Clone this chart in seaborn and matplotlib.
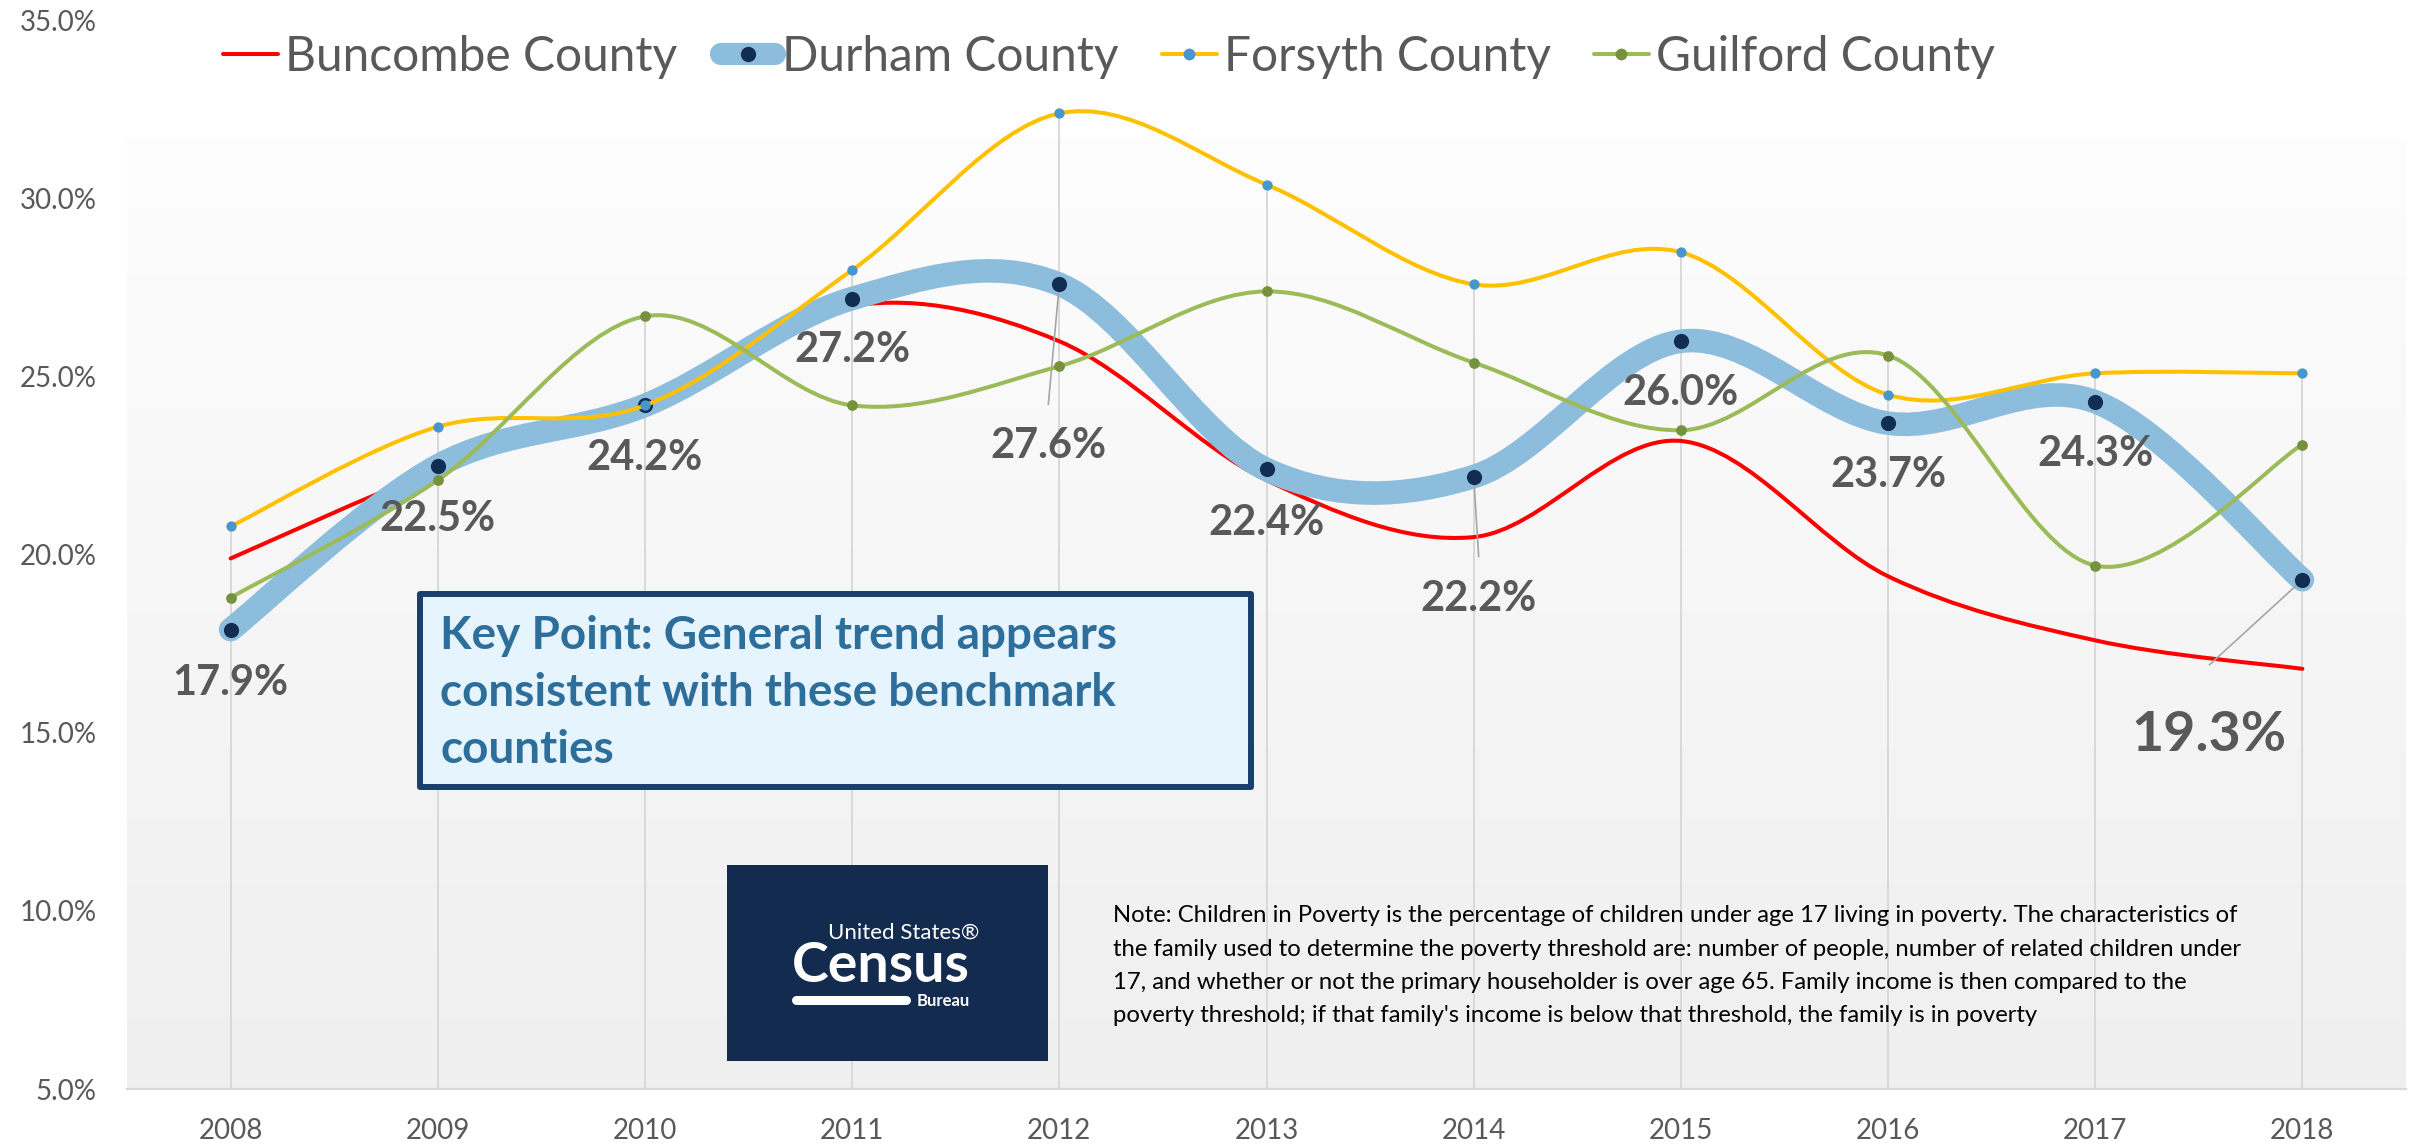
import numpy as np
import pandas as pd
import matplotlib.pyplot as plt
import seaborn as sns
from matplotlib.path import Path
from matplotlib.patches import PathPatch, Rectangle
from matplotlib.lines import Line2D
from matplotlib.colors import LinearSegmentedColormap
from matplotlib.ticker import FuncFormatter

# ==========================================
# DATA (children in poverty, %)
# ==========================================
years = [2008, 2009, 2010, 2011, 2012, 2013, 2014, 2015, 2016, 2017, 2018]
buncombe = [19.9, 22.4, 24.3, 27.0, 26.0, 22.1, 20.5, 23.2, 19.4, 17.6, 16.8]
durham = [17.9, 22.5, 24.2, 27.2, 27.6, 22.4, 22.2, 26.0, 23.7, 24.3, 19.3]
forsyth = [20.8, 23.6, 24.2, 28.0, 32.4, 30.4, 27.6, 28.5, 24.5, 25.1, 25.1]
guilford = [18.8, 22.1, 26.7, 24.2, 25.3, 27.4, 25.4, 23.5, 25.6, 19.7, 23.1]
counties = ["Buncombe County", "Durham County", "Forsyth County", "Guilford County"]
y_ticks = [5, 10, 15, 20, 25, 30, 35]

key_point = ["Key Point: General trend appears",
             "consistent with these benchmark",
             "counties"]
note_lines = [
    "Note: Children in Poverty is the percentage of children under age 17 living in poverty. The characteristics of",
    "the family used to determine the poverty threshold are: number of people, number of related children under",
    "17, and whether or not the primary householder is over age 65. Family income is then compared to the",
    "poverty threshold; if that family's income is below that threshold, the family is in poverty",
]

# label offsets for the Durham values, in pixels (dx, dy)
label_offsets = [(0, -50), (0, -50), (0, -49), (0, -48), (-11, -158), (0, -50),
                 (5, -119), (0, -48), (0, -48), (0, -49), (-93, -151)]
leader_ends = {4: (-11, -120), 6: (5, -80), 10: (-93, -85)}

# ==========================================
# STYLE
# ==========================================
W, H = 2412, 1145
GREY_TXT = "#595959"
RED = "#ff0000"
DURHAM_LINE = "#8dbddd"
DURHAM_MARK = "#112d52"
FORSYTH_LINE = "#ffc000"
FORSYTH_MARK = "#4896cc"
GUILFORD_LINE = "#9bbb59"
GUILFORD_MARK = "#76923c"

sns.set_theme(style="white")
plt.rcParams["font.family"] = ["Lato", "DejaVu Sans"]


def fx(x):
    return x / W


def fy(y):
    return 1 - y / H


def smooth_path(xs, ys):
    # Excel-like smoothed line: cubic Bezier through every point
    pts = np.column_stack([xs, ys]).astype(float)
    n = len(pts)
    verts = [pts[0]]
    codes = [Path.MOVETO]
    for i in range(n - 1):
        p0 = pts[i - 1] if i > 0 else pts[i]
        p1, p2 = pts[i], pts[i + 1]
        p3 = pts[i + 2] if i + 2 < n else pts[i + 1]
        verts += [p1 + (p2 - p0) / 6, p2 - (p3 - p1) / 6, p2]
        codes += [Path.CURVE4] * 3
    return Path(verts, codes)


df = pd.DataFrame({
    "year": years * 4,
    "value": buncombe + durham + forsyth + guilford,
    "county": [c for c in counties for _ in years],
})

fig = plt.figure(figsize=(W / 100, H / 100), dpi=100)
fig.patch.set_facecolor("white")
ax = fig.add_axes([fx(127), fy(1089), fx(2406 - 127), (1089 - 20.8) / H])
ax.set_facecolor("white")

# plot area gradient
bg = LinearSegmentedColormap.from_list("bg", ["#fdfdfd", "#efefef"])
ax.imshow(np.linspace(0, 1, 256).reshape(-1, 1), extent=[2007.5, 2018.5, 5, 31.7],
          aspect="auto", cmap=bg, origin="upper", zorder=0)

# drop lines from the highest point of each year
tops = df.groupby("year")["value"].max()
ax.vlines(tops.index, 5, tops.values, color="#d9d9d9", lw=1.4, zorder=1)

line_styles = {
    "Buncombe County": (RED, 2.9, 2),
    "Durham County": (DURHAM_LINE, 17, 3),
    "Forsyth County": (FORSYTH_LINE, 2.9, 5),
    "Guilford County": (GUILFORD_LINE, 2.9, 7),
}
for c in counties:
    sub = df[df.county == c]
    color, lw, z = line_styles[c]
    ax.add_patch(PathPatch(smooth_path(sub.year, sub.value), facecolor="none",
                           edgecolor=color, lw=lw, capstyle="round",
                           joinstyle="round", zorder=z))

marker_styles = {
    "Durham County": (DURHAM_MARK, 120, 4.6),
    "Forsyth County": (FORSYTH_MARK, 55, 6),
    "Guilford County": (GUILFORD_MARK, 60, 8),
}
for c, (color, size, z) in marker_styles.items():
    sns.scatterplot(data=df[df.county == c], x="year", y="value", color=color,
                    s=size, linewidth=0, zorder=z, ax=ax, legend=False)

# Durham value labels
for i, (yr, v) in enumerate(zip(years, durham)):
    dx, dy = label_offsets[i]
    big = i == len(years) - 1
    ax.annotate(f"{v:.1f}%", xy=(yr, v), xytext=(dx, dy), textcoords="offset pixels",
                ha="center", va="center_baseline", fontsize=40 if big else 30,
                fontweight="bold", color=GREY_TXT, zorder=9)
    if i in leader_ends:
        ax.annotate("", xy=(yr, v), xytext=leader_ends[i], textcoords="offset pixels",
                    arrowprops=dict(arrowstyle="-", color="#a6a6a6", lw=1.2,
                                    shrinkA=0, shrinkB=0), zorder=4.5)

ax.set_xlim(2007.5, 2018.5)
ax.set_ylim(5, 35)
ax.set_xticks(years)
ax.set_yticks(y_ticks)
ax.yaxis.set_major_formatter(FuncFormatter(lambda v, _: f"{v:.1f}%"))
ax.set_xlabel("")
ax.set_ylabel("")
ax.tick_params(axis="x", length=0, pad=21, labelsize=20, labelcolor=GREY_TXT)
ax.tick_params(axis="y", length=0, pad=22, labelsize=20, labelcolor=GREY_TXT)
ax.grid(False)
for s in ["top", "right", "left"]:
    ax.spines[s].set_visible(False)
ax.spines["bottom"].set_color("#d9d9d9")
ax.spines["bottom"].set_linewidth(1.6)
ax.spines["bottom"].set_zorder(1.5)

# legend
handles = [
    Line2D([], [], color=RED, lw=2.9),
    Line2D([], [], color=DURHAM_LINE, lw=16, solid_capstyle="round", marker="o",
           markersize=11, markerfacecolor=DURHAM_MARK, markeredgewidth=0),
    Line2D([], [], color=FORSYTH_LINE, lw=2.9, marker="o", markersize=8.5,
           markerfacecolor=FORSYTH_MARK, markeredgewidth=0),
    Line2D([], [], color=GUILFORD_LINE, lw=2.9, marker="o", markersize=8.5,
           markerfacecolor=GUILFORD_MARK, markeredgewidth=0),
]
leg = fig.legend(handles, counties, loc="center", bbox_to_anchor=(fx(1109), fy(57)),
                 ncol=4, frameon=False, fontsize=34.5, handlelength=1.14,
                 handletextpad=0.15, columnspacing=0.9, borderpad=0)
for t in leg.get_texts():
    t.set_color(GREY_TXT)

# key point box
fig.add_artist(Rectangle((fx(420), fy(787)), fx(1251 - 420), (787 - 594) / H,
                         transform=fig.transFigure, facecolor="#e6f4fd",
                         edgecolor="#1b3f6b", lw=4.3, joinstyle="round", zorder=5))
for i, line in enumerate(key_point):
    fig.text(fx(440), fy(649 + 57 * i), line, fontsize=33, fontweight="bold",
             color="#2e6e9a", va="baseline", ha="left", zorder=6)

# census logo
fig.add_artist(Rectangle((fx(727), fy(1061)), fx(1048 - 727), (1061 - 865) / H,
                         transform=fig.transFigure, facecolor="#122b4e",
                         edgecolor="none", zorder=5))
fig.text(fx(979), fy(931), "United States\u00ae", fontsize=16, color="white",
         ha="right", va="center_baseline", zorder=6)
fig.text(fx(881), fy(961), "Census", fontsize=40, fontweight="bold", color="white",
         ha="center", va="center_baseline", zorder=6)
fig.add_artist(Line2D([fx(796), fx(906)], [fy(999.5), fy(999.5)], transform=fig.transFigure,
                      color="white", lw=6.5, solid_capstyle="round", zorder=6))
fig.text(fx(917), fy(999), "Bureau", fontsize=12, fontweight="bold", color="white",
         ha="left", va="center_baseline", zorder=6)

# note
for i, line in enumerate(note_lines):
    fig.text(fx(1113), fy(922 + 33.5 * i), line, fontsize=17.2, color="black",
             ha="left", va="baseline", zorder=6)

fig.savefig("out.png", dpi=100, facecolor="white")
